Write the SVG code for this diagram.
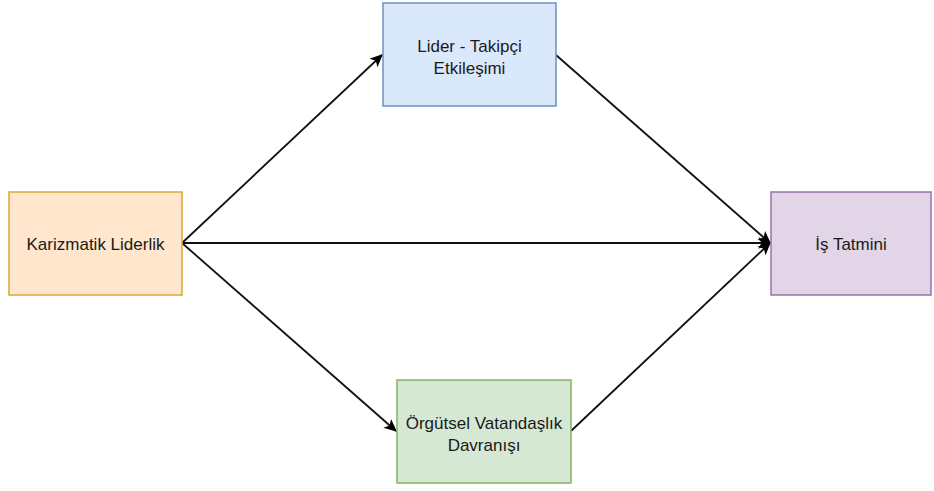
<svg xmlns="http://www.w3.org/2000/svg" width="934" height="491" viewBox="0 0 934 491">
<defs>
<marker id="arr" viewBox="0 0 10 10" refX="9" refY="5" markerWidth="13" markerHeight="13" markerUnits="userSpaceOnUse" orient="auto">
<path d="M0,0.5 L10,5 L0,9.5 L2.5,5 Z" fill="#000"/>
</marker>
<style>
.lbl{font-family:"Liberation Sans",Arial,sans-serif;font-size:17px;fill:#1a1a1a;text-anchor:middle;dominant-baseline:central}
.box{stroke-width:1.5}
.edge{fill:none;stroke:#111;stroke-width:1.8;marker-end:url(#arr)}
</style>
</defs>
<rect width="934" height="491" fill="#fff"/>
<g id="connectors">
<path class="edge" d="M182,243 L382,55"/>
<path class="edge" d="M556,55 L770,243"/>
<path class="edge" d="M182,243 L770,243"/>
<path class="edge" d="M182,243 L396,431"/>
<path class="edge" d="M571,431 L770,243"/>
</g>
<g id="karizmatik">
<rect class="box" x="9" y="192" width="173" height="103" fill="#ffe6cc" stroke="#d6a93a"/>
<text class="lbl" x="95.5" y="244">Karizmatik Liderlik</text>
</g>
<g id="lider">
<rect class="box" x="383" y="3" width="173" height="103" fill="#dae8fc" stroke="#6c8ebf"/>
<text class="lbl" x="469.5" y="46">Lider - Takipçi</text>
<text class="lbl" x="469.5" y="68">Etkileşimi</text>
</g>
<g id="orgutsel">
<rect class="box" x="397" y="380" width="174" height="103" fill="#d5e8d4" stroke="#82b366"/>
<text class="lbl" x="484" y="423">Örgütsel Vatandaşlık</text>
<text class="lbl" x="484" y="445">Davranışı</text>
</g>
<g id="is-tatmini">
<rect class="box" x="771" y="192" width="160" height="103" fill="#e1d5e7" stroke="#9673a6"/>
<text class="lbl" x="851" y="244">İş Tatmini</text>
</g>
</svg>
